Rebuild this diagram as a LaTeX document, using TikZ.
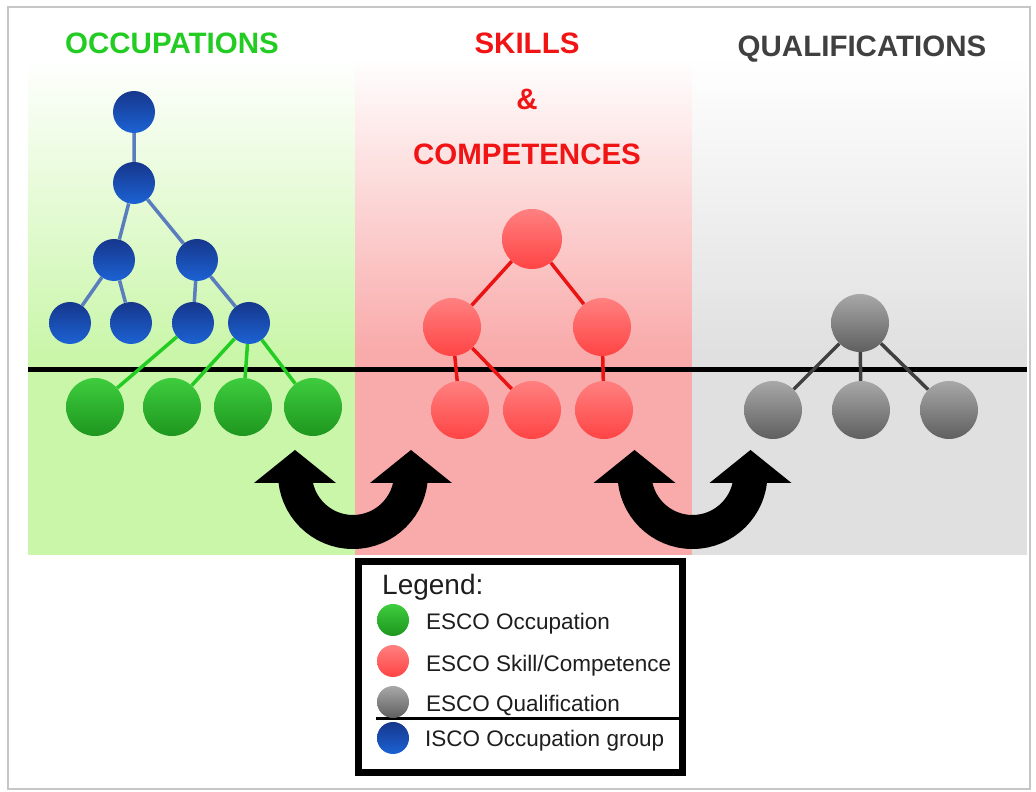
\documentclass[tikz,border=0pt]{standalone}
\usepackage{fontspec}
\setmainfont{Liberation Sans}
\usepackage{xcolor}
\usepackage{tikz}
\definecolor{iscotop}{RGB}{22,55,140}
\definecolor{iscobot}{RGB}{28,98,212}
\definecolor{occtop}{RGB}{62,205,62}
\definecolor{occbot}{RGB}{30,150,30}
\definecolor{skilltop}{RGB}{255,128,128}
\definecolor{skillbot}{RGB}{255,68,68}
\definecolor{qualtop}{RGB}{168,168,168}
\definecolor{qualbot}{RGB}{95,95,95}
\definecolor{iscoline}{RGB}{90,125,190}
\definecolor{occline}{RGB}{34,204,34}
\definecolor{skillline}{RGB}{235,20,20}
\definecolor{qualline}{RGB}{64,64,64}
\definecolor{occpanel}{RGB}{202,246,170}
\definecolor{skillpanel}{RGB}{249,170,170}
\definecolor{qualpanel}{RGB}{224,224,224}
\definecolor{occgreen}{RGB}{34,204,34}
\definecolor{skillred}{RGB}{240,20,20}
\definecolor{qualdark}{RGB}{64,64,64}
\definecolor{legtext}{RGB}{30,30,30}
\tikzset{
	ball/.style={circle, inner sep=0pt, draw=none},
	isco/.style={ball, minimum size=42pt, top color=iscotop, bottom color=iscobot},
	occ/.style={ball, minimum size=58pt, top color=occtop, bottom color=occbot},
	skill/.style={ball, minimum size=58pt, top color=skilltop, bottom color=skillbot},
	qual/.style={ball, minimum size=58pt, top color=qualtop, bottom color=qualbot},
	iscoedge/.style={draw=iscoline, line width=3.5pt},
	occedge/.style={draw=occline, line width=3.5pt},
	skilledge/.style={draw=skillline, line width=3.5pt},
	qualedge/.style={draw=qualline, line width=3.5pt},
	heading/.style={anchor=base, inner sep=0pt, font=\bfseries\fontsize{29.5}{34}\selectfont},
	entry/.style={anchor=base west, inner sep=0pt, text=legtext, font=\fontsize{22.5}{26}\selectfont}
}

\begin{document}
\begin{tikzpicture}[x=1pt,y=1pt]
	\useasboundingbox (0,0) rectangle (1036,792);
	\draw[gray!45, line width=1.5pt] (8,3) rectangle (1030,785);
	% panels
	\fill[occpanel] (28,237) rectangle (355,440);
	\shade[top color=white, bottom color=occpanel] (28,440) rectangle (355,735);
	\fill[skillpanel] (355,237) rectangle (692,440);
	\shade[top color=white, bottom color=skillpanel] (355,440) rectangle (692,735);
	\fill[qualpanel] (692,237) rectangle (1027,440);
	\shade[top color=white, bottom color=qualpanel] (692,440) rectangle (1027,735);
	% titles
	\node[heading, text=occgreen] (occ) at (172,738) {OCCUPATIONS};
	\node[heading, text=skillred] (skl) at (527,738) {SKILLS};
	\node[heading, text=skillred] (amp) at (527,682) {\&};
	\node[heading, text=skillred] (cmp) at (527,627) {COMPETENCES};
	\node[heading, text=qualdark] (qua) at (862,735) {QUALIFICATIONS};
	\draw[line width=5pt] (28,422) -- (1027,422);
	% ISCO groups and ESCO occupations
	\node[isco] (I1) at (134,680) {};
	\node[isco] (I2) at (134,609) {};
	\node[isco] (I3) at (114,532) {};
	\node[isco] (I4) at (197,532) {};
	\node[isco] (I5) at (70,469) {};
	\node[isco] (I6) at (131,469) {};
	\node[isco] (I7) at (193,469) {};
	\node[isco] (I8) at (249,469) {};
	\node[occ] (O1) at (95,385) {};
	\node[occ] (O2) at (172,385) {};
	\node[occ] (O3) at (243,385) {};
	\node[occ] (O4) at (313,385) {};
	\draw[iscoedge] (I1) -- (I2) (I2) -- (I3) (I2) -- (I4) (I3) -- (I5) (I3) -- (I6) (I4) -- (I7) (I4) -- (I8);
	\draw[occedge] (I7) -- (O1) (I8) -- (O2) (I8) -- (O3) (I8) -- (O4);
	% skills
	\node[skill, minimum size=60pt] (S1) at (532,553) {};
	\node[skill] (S2) at (452,465) {};
	\node[skill] (S3) at (602,465) {};
	\node[skill] (S4) at (460,382) {};
	\node[skill] (S5) at (532,382) {};
	\node[skill] (S6) at (604,382) {};
	\draw[skilledge] (S1) -- (S2) (S1) -- (S3) (S2) -- (S4) (S2) -- (S5) (S3) -- (S6);
	% qualifications
	\node[qual] (Q1) at (860,469) {};
	\node[qual] (Q2) at (773,382) {};
	\node[qual] (Q3) at (861,382) {};
	\node[qual] (Q4) at (949,382) {};
	\draw[qualedge] (Q1) -- (Q2) (Q1) -- (Q3) (Q1) -- (Q4);
	% swap arrows
	\foreach \c in {353,692.5} {
		\draw[line width=34pt] (\c-58,310) -- (\c-58,318) arc[start angle=180, end angle=360, radius=58] -- (\c+58,310);
		\fill (\c-99,309) -- (\c-58,342) -- (\c-17,309) -- cycle;
		\fill (\c+17,309) -- (\c+58,342) -- (\c+99,309) -- cycle;
	}
	% legend
	\draw[line width=7pt, fill=white] (358,19) rectangle (682,230);
	\draw[line width=3pt] (376,73) -- (682,73);
	\node[anchor=base west, inner sep=0pt, text=legtext, font=\fontsize{28}{32}\selectfont] (leg) at (382,197) {Legend:};
	\node[occ, minimum size=32pt] (L1) at (393,172) {};
	\node[skill, minimum size=32pt] (L2) at (393,131) {};
	\node[qual, minimum size=32pt] (L3) at (393,90) {};
	\node[isco, minimum size=32pt] (L4) at (393,54) {};
	\node[entry] (T1) at (426,162) {ESCO Occupation};
	\node[entry] (T2) at (426,120) {ESCO Skill/Competence};
	\node[entry] (T3) at (426,80) {ESCO Qualification};
	\node[entry] (T4) at (425,45) {ISCO Occupation group};
\end{tikzpicture}
\end{document}
